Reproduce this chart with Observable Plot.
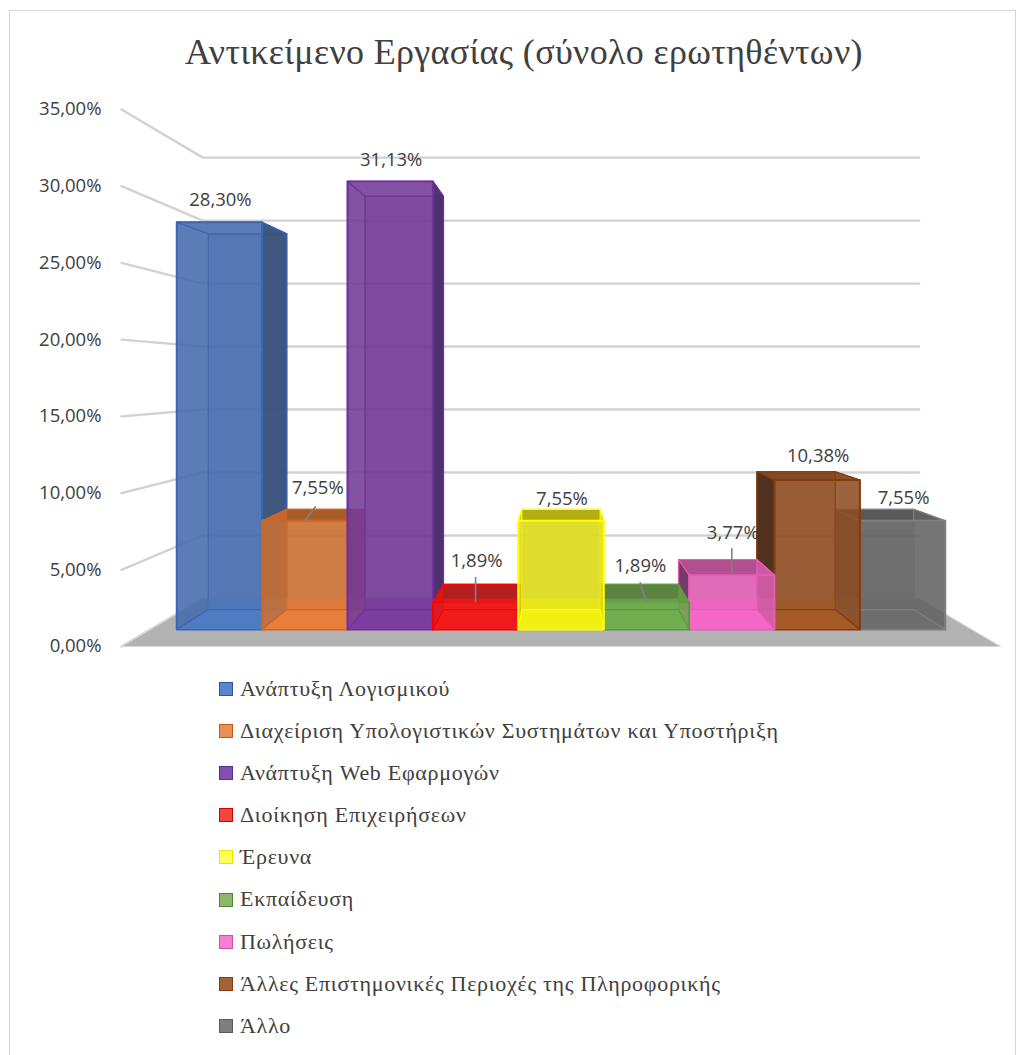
<!DOCTYPE html>
<html lang="el">
<head>
<meta charset="utf-8">
<script src="https://cdn.jsdelivr.net/npm/d3@7"></script>
<script src="https://cdn.jsdelivr.net/npm/@observablehq/plot@0.6"></script>
<style>
html,body{margin:0;padding:0;background:#fff;overflow:hidden}
#frame{position:absolute;left:9px;top:10px;width:1007px;height:1060px;border:1.5px solid #d4d4d4;box-sizing:border-box}
#wrap{position:absolute;left:0;top:0;width:1026px}
#title{height:90px;box-sizing:border-box;padding-top:34px;text-align:center;font:36px/36px "Liberation Serif",serif;color:#404040;padding-left:22px;letter-spacing:.35px}
#chart svg{display:block}
#legend{position:absolute;left:219px;top:668px;font:22px/42.1px "Liberation Serif",serif;color:#404040}
.row{display:flex;align-items:center;height:42.1px;white-space:nowrap;letter-spacing:.7px}
.sw{width:12px;height:12px;border:1.5px solid;margin-right:7px;box-sizing:content-box}
</style>
</head>
<body>
<div id="frame"></div>
<div id="wrap">
<div id="title">Αντικείμενο Εργασίας (σύνολο ερωτηθέντων)</div>
<div id="chart"></div>
<div id="legend"></div>
</div>
<script>
const categories = ["Ανάπτυξη Λογισμικού","Διαχείριση Υπολογιστικών Συστημάτων και Υποστήριξη","Ανάπτυξη Web Εφαρμογών","Διοίκηση Επιχειρήσεων","Έρευνα","Εκπαίδευση","Πωλήσεις","Άλλες Επιστημονικές Περιοχές της Πληροφορικής","Άλλο"];
const values = [28.30,7.55,31.13,1.89,7.55,1.89,3.77,10.38,7.55];
const yTicks = [0,5,10,15,20,25,30,35];

const baseColors  = ["#466bac","#cc7135","#733a96","#e81818","#dedb1c","#6aa84a","#dc5fb2","#8f4f26","#636363"];
const floorColors = ["#4f7bc2","#e87e3c","#7a3e9e","#f01a1a","#f2ef12","#72ad50","#f568c7","#a55a28","#6e6e6e"];
const edgeColors  = ["#3a66b4","#d0651c","#7030a0","#ff0000","#ffff00","#5a9a3c","#e85ab8","#843c0c","#7f7f7f"];
const sideColors  = ["#3a5278","#a8581f","#4c2c6a","#a01616","#c8c418","#4f7a3a","#6a3560","#4a2c1a","#555555"];
const topColors   = ["#466bac","#a85a24","#733a96","#b01c1c","#b0aa14","#58803f","#b04e8c","#80481f","#565656"];
const swatchFill  = ["#5b84cf","#ea8f55","#8350b0","#f5443c","#ffff55","#8ab76a","#f77fd0","#a5623a","#7f7f7f"];
const swatchEdge  = ["#2f5597","#c55a11","#5c2d91","#d00000","#e8e800","#548235","#d050a8","#843c0c","#595959"];

const labelFmt = v => v.toFixed(2).replace(".", ",") + "%";
const labelOffsets = [[1,-22],[13,-33],[1,-21],[1,-41],[1,-22],[-6,-36],[1,-42],[1,-24],[1,-23]];
// leader lines in chart units: bar index, horizontal and vertical reach
const leaders = [[1,.12,.95],[3,0,1.65],[5,-.07,1.3],[6,0,1.76]];

const dFront = .354, dBack = .77;
const project = (u, d, v, shrink = .175) => ({x: 4.5 + (u - 4.5) * (1 - .185 * d), y: 3.129 * d + v * (1 - shrink * d)});
const poly = (...pts) => { const p = pts.map(([u,d,v]) => project(u,d,v)); return [...p, p[0]]; };

const face = (pts, fill, fillOpacity, stroke, strokeWidth=1.4) =>
  Plot.line(pts, {x:"x", y:"y", fill, fillOpacity, stroke, strokeWidth, strokeLinejoin:"round"});

function barMarks(i) {
  const v = values[i], a = i, b = i + 1, c = baseColors[i], e = edgeColors[i], f = floorColors[i];
  const fromAbove = project(a,dBack,v).y > project(a,dFront,v).y;
  const leftOuter = project(a,dBack,0).x < project(a,dFront,0).x;
  const rightOuter = project(b,dBack,0).x > project(b,dFront,0).x;
  const band = Math.min(.83, v);
  return [
    face(poly([a,dBack,0],[b,dBack,0],[b,dBack,v],[a,dBack,v]), c, .8, e, 1.2),
    face(poly([a,dFront,v],[b,dFront,v],[b,dBack,v],[a,dBack,v]), topColors[i], fromAbove ? .95 : .7, e, 1.2),
    face(poly([a,dFront,0],[a,dBack,0],[a,dBack,v],[a,dFront,v]), leftOuter ? sideColors[i] : c, leftOuter ? .92 : .7, e, 1.2),
    face(poly([b,dFront,0],[b,dBack,0],[b,dBack,v],[b,dFront,v]), rightOuter ? sideColors[i] : c, rightOuter ? .92 : .7, e, 1.2),
    face(poly([a,dFront,0],[b,dFront,0],[b,dFront,v],[a,dFront,v]), c, .6, e, 2),
    face(poly([a,dBack,0],[b,dBack,0],[b,dBack,band],[a,dBack,band]), f, .6, "none", 0),
    face(poly([a,dFront,0],[b,dFront,0],[b,dBack,0],[a,dBack,0]), f, 1, e, 1.2),
  ];
}

const paintOrder = [0,1,2,3,8,7,6,5,4];
const wallShrink = .179;
const wall = [...yTicks.slice(1).map(t => [project(-.31,0,t,wallShrink), project(-.31,1,t,wallShrink), project(9.31,1,t,wallShrink)]),
              [project(-.31,0,0), project(-.31,1,0)]];
const floor = [project(-.31,0,0), project(-.31,1,0), project(9.31,1,0), project(9.31,0,0), project(-.31,0,0)];
const gridStroke = "#d2d2d2";

const plot = Plot.plot({
  width: 1026, height: 570,
  marginLeft: 121, marginRight: 26, marginTop: 19, marginBottom: 14,
  x: {domain: [-.31, 9.31], axis: null},
  y: {domain: [0, 35]},
  style: {background: "transparent", overflow: "visible"},
  marks: [
    ...wall.map(w => Plot.line(w, {x:"x", y:"y", stroke:gridStroke, strokeWidth:2.4})),
    Plot.line(floor, {x:"x", y:"y", fill:"#b2b2b2", stroke:"#d8d8d8", strokeWidth:1.2}),
    ...paintOrder.flatMap(barMarks),
    Plot.axisY({ticks: yTicks, tickSize: 0, tickPadding: 20, label: null,
      tickFormat: labelFmt, fontSize: 18.5, fontFamily: "Open Sans, sans-serif", fill: "#404040", letterSpacing: "-.2px"}),
    ...leaders.map(([i,du,dv]) => {
      const s = project(i + .5, dFront, values[i]);
      return Plot.link([{x1:s.x, y1:s.y, x2:s.x + du, y2:s.y + dv}], {x1:"x1", y1:"y1", x2:"x2", y2:"y2", stroke:"#808080", strokeWidth:1.6});
    }),
    ...values.map((v,i) => {
      const s = project(i + .5, dFront, v);
      return Plot.text([{...s, t: labelFmt(v)}], {x:"x", y:"y", text:"t", dx:labelOffsets[i][0], dy:labelOffsets[i][1],
        fontSize:18.5, fontFamily:"Open Sans, sans-serif", fill:"#404040", letterSpacing:"-.2px"});
    })
  ]
});
document.getElementById("chart").append(plot);

const legend = d3.select("#legend").selectAll("div").data(categories).join("div").attr("class","row");
legend.append("span").attr("class","sw").style("background",(d,i)=>swatchFill[i]).style("border-color",(d,i)=>swatchEdge[i]);
legend.append("span").text(d=>d);
</script>
</body>
</html>
